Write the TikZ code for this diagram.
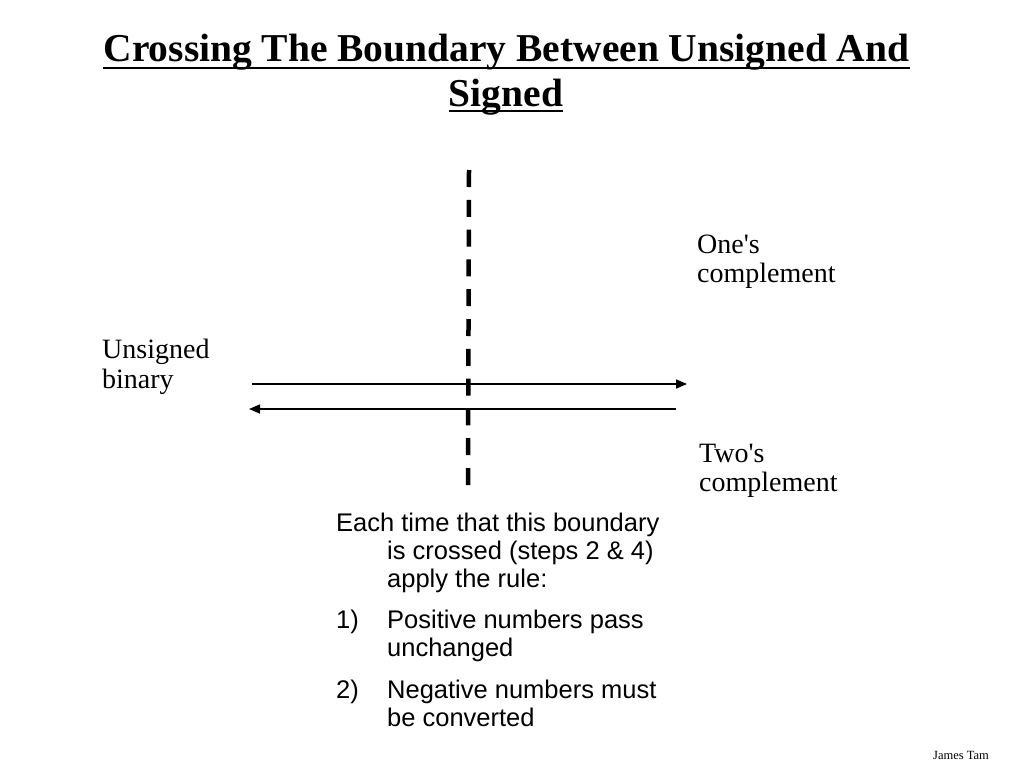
\documentclass[tikz,border=0pt]{standalone}
\usepackage{fontspec}
\setmainfont{Liberation Serif}
\setsansfont{Liberation Sans}
\usetikzlibrary{arrows.meta}
\newcommand{\hangin}{\hspace*{51pt}}
\newcommand{\itemno}[1]{\makebox[51pt][l]{#1}}

\begin{document}
\begin{tikzpicture}[x=1pt, y=-1pt,
    every node/.append style={inner sep=0pt, anchor=base west},
    title/.style={anchor=base, font=\bfseries\fontsize{39.5}{44}\selectfont},
    uline/.style={line width=2.8pt},
    lbl/.style={align=left, font=\fontsize{28}{29.5}\selectfont},
    rule/.style={align=left, font=\sffamily\fontsize{25.5}{28}\selectfont},
    flow/.style={line width=1.5pt, -{Triangle[length=11pt, width=9pt]}}]
    \useasboundingbox (0,0) rectangle (1024,768);
    % title
    \node[title] (title1) at (506.5,62) {Crossing The Boundary Between Unsigned And};
    \node[title] (title2) at (506,106) {Signed};
    \draw[uline] ([yshift=-6pt]title1.base west) -- ([yshift=-6pt]title1.base east);
    \draw[uline] ([yshift=-5pt]title2.base west) -- ([yshift=-5pt]title2.base east);
    % boundary
    \coordinate (B1) at (469,170);
    \coordinate (B2) at (468,485);
    \draw[line width=4.5pt, dash pattern=on 17pt off 12.8pt] (B1) -- (B2);
    % crossings
    \coordinate (U1) at (252,384);
    \coordinate (U2) at (687,384);
    \coordinate (T1) at (676,409);
    \coordinate (T2) at (249,409);
    \draw[flow] (U1) -- (U2);
    \draw[flow] (T1) -- (T2);
    % labels (base = last line)
    \node[lbl] (ones) at (697,282.5) {One\textquotesingle s\\complement};
    \node[lbl] (unsigned) at (102,388) {Unsigned\\binary};
    \node[lbl] (twos) at (699,491.5) {Two\textquotesingle s\\complement};
    \node[rule] (note) at (336,726) {Each time that this boundary\\
      \hangin is crossed (steps 2 \& 4)\\
      \hangin apply the rule:\\[13pt]
      \itemno{1)}Positive numbers pass\\
      \hangin unchanged\\[14pt]
      \itemno{2)}Negative numbers must\\
      \hangin be converted};
    \node[font=\fontsize{12.5}{14}\selectfont] (author) at (933,759) {James Tam};
\end{tikzpicture}
\end{document}
